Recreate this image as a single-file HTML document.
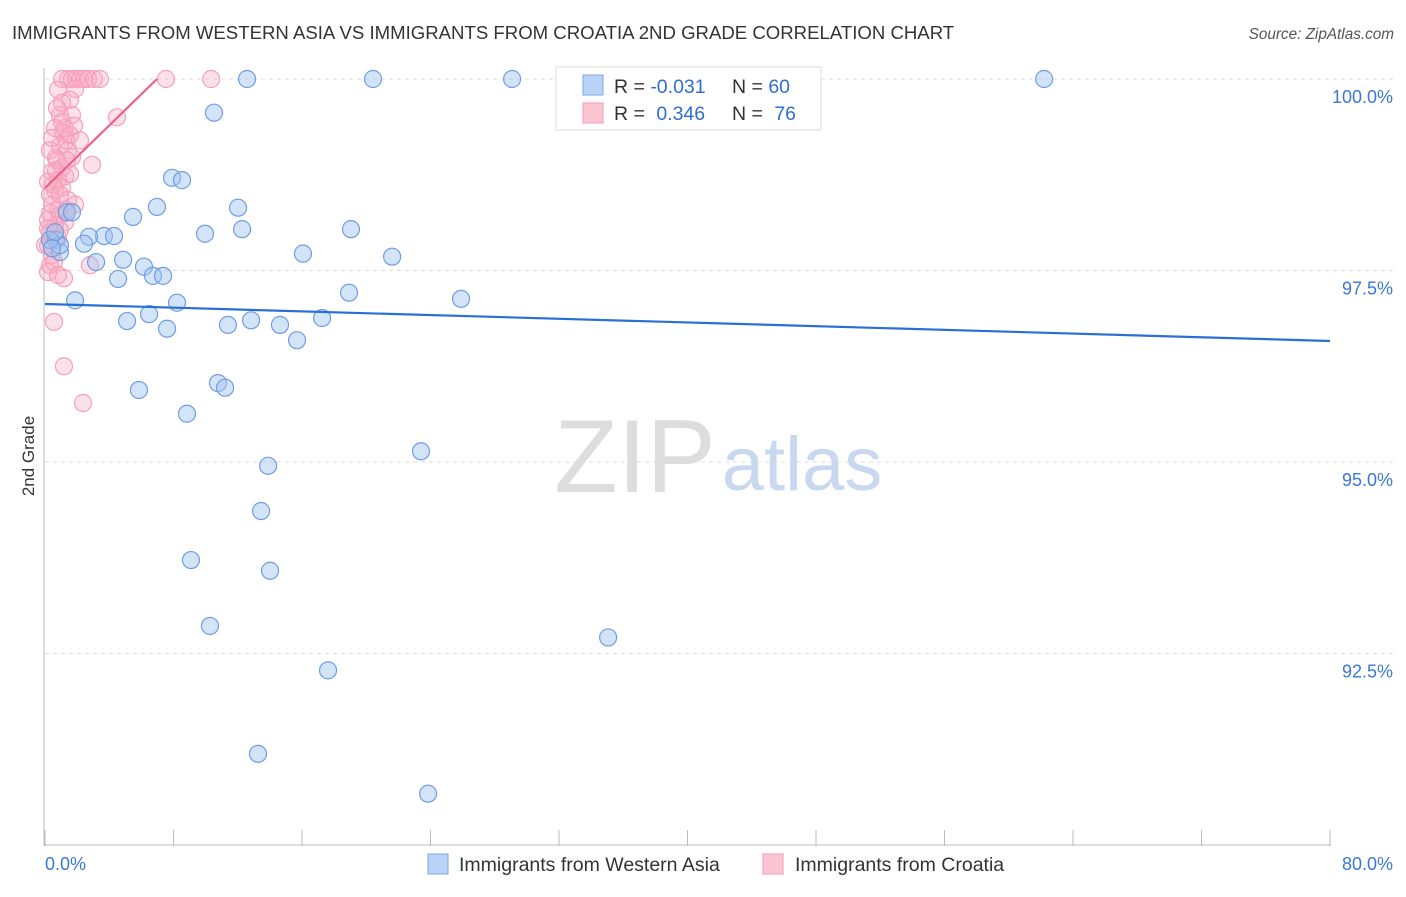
<!DOCTYPE html>
<html><head><meta charset="utf-8"><style>
body{margin:0;background:#fff;font-family:"Liberation Sans",sans-serif}
svg text{font-family:"Liberation Sans",sans-serif}
</style></head><body>
<svg id="chart" width="1406" height="892" viewBox="0 0 1406 892" xmlns="http://www.w3.org/2000/svg">
<text x="12" y="39" font-size="18.6" fill="#333">IMMIGRANTS FROM WESTERN ASIA VS IMMIGRANTS FROM CROATIA 2ND GRADE CORRELATION CHART</text>
<text x="1394" y="39" font-size="15.3" fill="#555" text-anchor="end" font-style="italic">Source: ZipAtlas.com</text>
<text transform="translate(34,456) rotate(-90)" font-size="17" fill="#333" text-anchor="middle">2nd Grade</text>
<g><text x="635" y="492" font-size="104" fill="#ddd" text-anchor="middle" font-family="Liberation Serif">ZIP</text><text x="802" y="490" font-size="76" fill="#c8d8ef" text-anchor="middle">atlas</text></g>
<g id="grid"></g><g id="axes"></g><g id="pts"></g><g id="trend"></g>
<g>
<rect x="556" y="67" width="265" height="63" fill="#fff" stroke="#ddd"/>
<rect x="583" y="75" width="20" height="20" fill="#b9d3f6" stroke="#7ba7e6"/>
<rect x="583" y="103" width="20" height="20" fill="#fcc5d4" stroke="#f29ab4"/>
<text x="614" y="93" font-size="19.5" fill="#333">R = <tspan fill="#2e6fd4">-0.031</tspan></text>
<text x="732" y="93" font-size="19.5" fill="#333">N = <tspan fill="#2e6fd4">60</tspan></text>
<text x="614" y="120" font-size="19.5" fill="#333">R = <tspan fill="#2e6fd4" dx="6">0.346</tspan></text>
<text x="732" y="120" font-size="19.5" fill="#333">N = <tspan fill="#2e6fd4" dx="6">76</tspan></text>
</g>
<g>
<rect x="428" y="854" width="20" height="20" fill="#b9d3f6" stroke="#7ba7e6"/>
<text x="459" y="871" font-size="19.5" fill="#333">Immigrants from Western Asia</text>
<rect x="763" y="854" width="20" height="20" fill="#fcc5d4" stroke="#f29ab4"/>
<text x="795" y="871" font-size="19.5" fill="#333">Immigrants from Croatia</text>
</g>
</svg>
<script>
const yTicks=[100,97.5,95,92.5];
const yTickLabels=["100.0%","97.5%","95.0%","92.5%"];
const xTickLabels=["0.0%","80.0%"];
const blueX=[12.58,20.42,29.08,42.28,62.2,10.52,7.91,8.53,6.97,12.02,5.48,1.37,12.27,19.05,9.96,3.67,4.30,2.74,0.68,2.43,0.93,16.06,21.61,4.86,3.18,6.16,6.72,7.35,4.55,18.93,25.9,1.87,8.22,6.48,5.11,12.83,11.39,14.63,17.25,7.6,15.69,10.77,11.21,5.85,8.84,23.41,13.89,13.45,9.09,14.01,10.27,35.06,17.62,13.26,23.85,0.93,0.31,0.62,0.44,1.68];
const blueY=[100,100,100,100,100,99.56,98.71,98.68,98.33,98.32,98.20,98.26,98.04,98.04,97.98,97.95,97.95,97.94,97.90,97.85,97.74,97.72,97.68,97.64,97.61,97.55,97.43,97.43,97.39,97.21,97.13,97.11,97.08,96.93,96.84,96.85,96.79,96.79,96.88,96.74,96.59,96.03,95.97,95.94,95.63,95.14,94.95,94.36,93.72,93.58,92.86,92.71,92.28,91.19,90.67,97.83,97.90,98.00,97.79,98.26];
const pinkX=[1.06,1.43,1.68,1.93,2.18,2.43,2.68,3.05,3.42,7.53,10.34,0.81,1.87,0.93,1.68,4.48,0.62,1.12,1.56,1.31,0.93,1.43,0.68,1.68,2.93,1.06,0.44,1.25,0.81,1.56,0.62,1.06,0.31,1.43,0.44,0.81,0.31,0.93,0.19,0.62,1.25,0.31,0.81,0.19,0.44,0.31,0.19,1.18,2.8,0.56,1.18,2.37,0.31,0.75,1.25,1.56,1.06,0.5,1.87,0.19,0.68,0.93,1.31,0.31,0.56,0.93,0.81,0,0.19,1.37,0.44,1.81,1.06,2.18,0.75];
const pinkY=[100,100,100,100,100,100,100,100,100,100,100,99.86,99.87,99.53,99.53,99.50,99.36,99.30,99.27,99.20,99.13,99.07,98.97,98.98,98.88,98.84,98.79,98.73,98.68,98.76,98.55,98.58,98.49,98.42,98.36,98.29,98.25,98.22,98.16,98.09,98.13,98.00,97.92,97.83,97.70,97.57,97.48,97.40,97.57,96.83,96.25,95.77,99.07,98.94,99.36,99.73,99.69,98.62,98.36,98.66,98.81,98.49,98.29,97.90,97.61,98.03,97.44,97.83,98.05,98.94,99.23,99.39,99.44,99.20,99.62];
const blueTrend=[97.063,96.58];
const pinkTrend=[98.577,100,6.97];
const NS="http://www.w3.org/2000/svg";
const X0=45,X1=1330,Y100=79,PXPER=76.6;
function sx(v){return X0+v/80*(X1-X0);}
function sy(v){return Y100+(100-v)*PXPER;}
function mk(t,a,p){const e=document.createElementNS(NS,t);for(const k in a)e.setAttribute(k,a[k]);document.getElementById(p).appendChild(e);return e;}
yTicks.forEach((t,i)=>{
 const l=mk('line',{x1:45,x2:1395,y1:sy(t),y2:sy(t),stroke:'#ddd','stroke-dasharray':'4,4'},'grid');
 
 
 const tx=mk('text',{x:1393,y:sy(t)+24,'font-size':18,fill:'#3a78d8','text-anchor':'end'},'grid');
 tx.textContent=yTickLabels[i];
 
 
});
const ax=mk('line',{x1:44,x2:44,y1:68,y2:846,stroke:'#bbb'},'axes');


const bx=mk('line',{x1:44,x2:1331,y1:845,y2:845,stroke:'#bbb'},'axes');


for(let i=0;i<=10;i++){
 const t=mk('line',{x1:sx(i*8),x2:sx(i*8),y1:830,y2:846,stroke:'#bbb'},'axes');
 
 
}
[[0,'start',45],[80,'end',1393]].forEach((d,i)=>{
 const t=mk('text',{x:d[2],y:870,'font-size':18,fill:'#3a78d8','text-anchor':d[1]},'axes');
 t.textContent=xTickLabels[i];
 
 
});
pinkX.forEach((x,i)=>{
 const c=mk('circle',{cx:sx(x),cy:sy(pinkY[i]),r:8.5,fill:'rgba(248,170,195,0.35)',stroke:'#f4a0b9','stroke-width':1.2},'pts');
 
 
});
blueX.forEach((x,i)=>{
 const c=mk('circle',{cx:sx(x),cy:sy(blueY[i]),r:8.5,fill:'rgba(160,195,240,0.45)',stroke:'#6f9de3','stroke-width':1.2},'pts');
 
 
});
const bl=mk('line',{x1:sx(0),y1:sy(blueTrend[0]),x2:sx(80),y2:sy(blueTrend[1]),stroke:'#2a6fd6','stroke-width':2.2},'trend');


const pl=mk('line',{x1:sx(0),y1:sy(pinkTrend[0]),x2:sx(pinkTrend[2]),y2:sy(pinkTrend[1]),stroke:'#ee5f8a','stroke-width':2.2},'trend');


</script>
</body></html>
